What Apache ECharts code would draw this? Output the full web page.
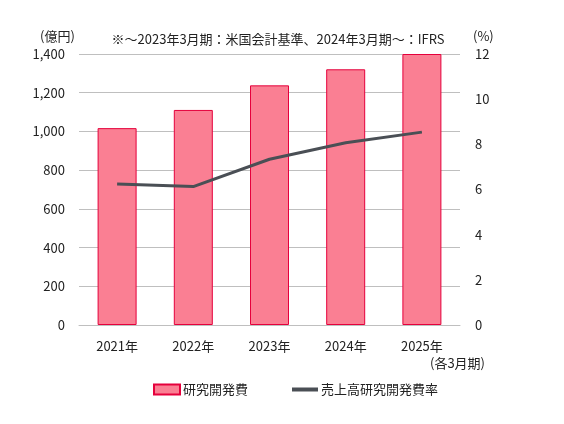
<!DOCTYPE html>
<html lang="ja">
<head>
    <meta charset="utf-8">
    <title>研究開発費</title>
    <script src="https://cdn.jsdelivr.net/npm/echarts@6/dist/echarts.min.js"></script>
    <style>
        html, body { margin: 0; padding: 0; background: #fff; }
        #chart { width: 564px; height: 424px; }
    </style>
</head>
<body>
<div id="chart"></div>
<script type="text/javascript">
    // データ
    var years = ['2021年', '2022年', '2023年', '2024年', '2025年'];
    var rdCost = [1017, 1111, 1238, 1321, 1400];       // 研究開発費（億円）
    var rdRatio = [6.24, 6.13, 7.34, 8.07, 8.54];       // 売上高研究開発費率（%）
    var leftTicks = [0, 1400, 200];
    var rightTicks = [0, 12, 2];

    var font = '"Noto Sans CJK JP", "Noto Sans", sans-serif';
    var chart = echarts.init(document.getElementById('chart'));

    var option = {
        animation: false,
        textStyle: { fontFamily: font, color: '#222' },
        title: {
            text: '※～2023年3月期：米国会計基準、2024年3月期～：IFRS',
            left: 273,
            top: 28,
            textAlign: 'center',
            textStyle: { fontSize: 13, fontWeight: 'normal', color: '#222', fontFamily: font }
        },
        legend: {
            left: 148,
            top: 378,
            itemWidth: 26,
            itemHeight: 10,
            itemGap: 44,
            textStyle: { fontSize: 13, color: '#222', fontFamily: font, padding: [0, 0, 0, -2] },
            data: [
                { name: '研究開発費', icon: 'rect' },
                { name: '売上高研究開発費率', icon: 'path://M0,0 L26,0 L26,4 L0,4 Z' }
            ]
        },
        grid: { left: 79, right: 104, top: 54, bottom: 99 },
        xAxis: {
            type: 'category',
            data: years,
            axisTick: { show: false },
            axisLine: { lineStyle: { color: '#bfbfbf' } },
            axisLabel: { margin: 15, fontSize: 13, color: '#222' }
        },
        yAxis: [
            {
                type: 'value',
                min: leftTicks[0], max: leftTicks[1], interval: leftTicks[2],
                axisLabel: {
                    margin: 14, fontSize: 13, color: '#222',
                    formatter: function (v) { return v.toLocaleString('en-US'); }
                },
                splitLine: { lineStyle: { color: '#bfbfbf' } }
            },
            {
                type: 'value',
                min: rightTicks[0], max: rightTicks[1], interval: rightTicks[2],
                axisLabel: { margin: 15, fontSize: 13, color: '#222' },
                splitLine: { show: false }
            }
        ],
        graphic: [
            { type: 'text', left: 40, top: 30, style: { text: '(億円)', fill: '#222', font: '13px ' + font } },
            { type: 'text', left: 473, top: 30, style: { text: '(%)', fill: '#222', font: '13px ' + font } },
            { type: 'text', left: 430, top: 357, style: { text: '(各3月期)', fill: '#222', font: '13px ' + font } }
        ],
        series: [
            {
                name: '研究開発費',
                type: 'bar',
                data: rdCost,
                barWidth: 39,
                itemStyle: { color: '#fa7f93', borderColor: '#e5003c', borderWidth: 1 }
            },
            {
                name: '売上高研究開発費率',
                type: 'line',
                yAxisIndex: 1,
                data: rdRatio,
                showSymbol: false,
                symbol: 'none',
                lineStyle: { color: '#4a4f55', width: 3 },
                itemStyle: { color: '#4a4f55' }
            }
        ]
    };

    chart.setOption(option);
</script>
</body>
</html>
